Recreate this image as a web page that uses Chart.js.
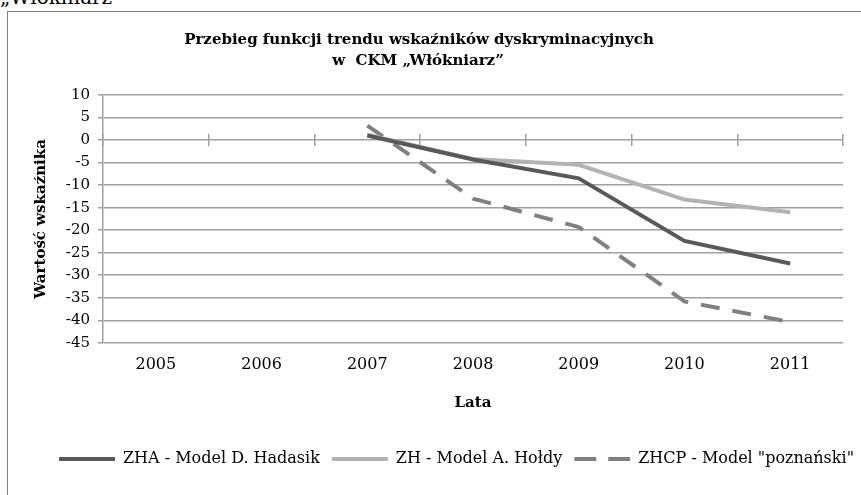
<!DOCTYPE html>
<html>
<head>
<meta charset="utf-8">
<script src="https://cdn.jsdelivr.net/npm/chart.js@4/dist/chart.umd.min.js"></script>
<style>
  html, body { margin: 0; padding: 0; background: #fff; overflow: hidden; }
  #wrap { position: relative; width: 861px; height: 495px; }
  #doc { position: absolute; left: 0; top: -13px; font: 20px/20px "DejaVu Serif", serif; color: #000; white-space: nowrap; }
  #frame { position: absolute; left: 7px; top: 11px; width: 900px; height: 600px; border: 1px solid #7f7f7f; box-sizing: border-box; }
  canvas { position: absolute; left: 0; top: 0; }
</style>
</head>
<body>
<div id="wrap">
  <div id="doc">„Włókniarz</div>
  <div id="frame"></div>
  <canvas id="c" width="861" height="495"></canvas>
</div>
<script>
const titleLines = ['Przebieg funkcji trendu wskaźników dyskryminacyjnych', 'w  CKM „Włókniarz”'];
const years = ['2005', '2006', '2007', '2008', '2009', '2010', '2011'];
const zha  = [null, null, 1.0, -4.3, -8.5, -22.4, -27.4];
const zh   = [null, null, 1.2, -4.2, -5.5, -13.2, -16.0];
const zhcp = [null, null, 3.2, -13.0, -19.3, -35.8, -40.4];
const seriesNames = ['ZHA - Model D. Hadasik', 'ZH - Model A. Hołdy', 'ZHCP - Model "poznański"'];
const yTitle = 'Wartość wskaźnika';
const xTitle = 'Lata';

const serif = '"DejaVu Serif", serif';
const gridCol = '#a0a0a0';

// dashed legend sample as a repeating fill pattern
const patCanvas = document.createElement('canvas');
patCanvas.width = 34; patCanvas.height = 1;
const pctx = patCanvas.getContext('2d');
pctx.fillStyle = '#808080';
pctx.fillRect(0, 0, 22, 1);
const dashPattern = pctx.createPattern(patCanvas, 'repeat');

const titlePlugin = {
  id: 'excelTitle',
  beforeDraw(chart) {
    const hb = chart.legend && chart.legend.legendHitBoxes && chart.legend.legendHitBoxes[2];
    if (hb && dashPattern.setTransform) {
      dashPattern.setTransform(new DOMMatrix().translateSelf(hb.left, 0));
    }
  },
  afterDraw(chart) {
    const ctx = chart.ctx;
    ctx.save();
    ctx.font = 'bold 15px ' + serif;
    ctx.fillStyle = '#000';
    ctx.textAlign = 'center';
    ctx.textBaseline = 'alphabetic';
    ctx.fillText(titleLines[0], 419, 44);
    ctx.fillText(titleLines[1], 418, 65);
    ctx.restore();
  }
};

new Chart(document.getElementById('c'), {
  type: 'line',
  data: {
    labels: years,
    datasets: [
      { label: seriesNames[0], data: zha, borderColor: '#595959', backgroundColor: '#595959', borderWidth: 4, pointRadius: 0, tension: 0 },
      { label: seriesNames[1], data: zh, borderColor: '#b3b3b3', backgroundColor: '#b3b3b3', borderWidth: 4, pointRadius: 0, tension: 0 },
      { label: seriesNames[2], data: zhcp, borderColor: '#808080', backgroundColor: '#808080', borderWidth: 4, borderDash: [19, 13], pointRadius: 0, tension: 0 }
    ]
  },
  options: {
    responsive: false,
    animation: false,
    layout: { padding: { top: 95, right: -13, left: 39, bottom: 18 } },
    plugins: {
      title: { display: false },
      tooltip: { enabled: false },
      legend: {
        position: 'bottom',
        labels: {
          boxWidth: 56,
          boxHeight: 4,
          color: '#000',
          font: { family: serif, size: 16 },
          padding: 12,
          generateLabels(chart) {
            const items = Chart.defaults.plugins.legend.labels.generateLabels(chart);
            items.forEach((it, i) => {
              it.lineWidth = 0;
              it.lineDash = [];
              if (i === 2) it.fillStyle = dashPattern;
            });
            return items;
          }
        }
      }
    },
    scales: {
      x: {
        type: 'category',
        offset: true,
        grid: { display: false, drawOnChartArea: false, drawTicks: false },
        border: { display: false },
        ticks: { color: '#000', font: { family: serif, size: 16 }, padding: 12, maxRotation: 0, autoSkip: false },
        title: { display: true, text: xTitle, color: '#000', font: { family: serif, size: 15, weight: 'bold' }, padding: { top: 8, bottom: 27 } }
      },
      x2: {
        type: 'category',
        position: { y: 1.33 },
        offset: true,
        grid: { offset: true, drawOnChartArea: false, drawTicks: true, tickLength: 12, color: gridCol, lineWidth: 1.5 },
        border: { display: false },
        ticks: { display: false }
      },
      y: {
        min: -45,
        max: 10,
        ticks: { stepSize: 5, autoSkip: false, color: '#000', font: { family: serif, size: 15 }, padding: 8 },
        grid: { color: gridCol, lineWidth: 1.5, tickLength: 5 },
        border: { display: true, color: gridCol, width: 1.5 },
        title: { display: true, text: yTitle, color: '#000', font: { family: serif, size: 15, weight: 'bold' }, padding: { top: -7, bottom: 0 } },
        afterFit(scale) { scale.width = 64; }
      },
      yR: {
        type: 'linear',
        position: 'right',
        grid: { display: false, drawTicks: false },
        border: { display: false },
        ticks: { display: false },
        afterFit(scale) { scale.width = 31; }
      }
    }
  },
  plugins: [titlePlugin]
});
</script>
</body>
</html>
